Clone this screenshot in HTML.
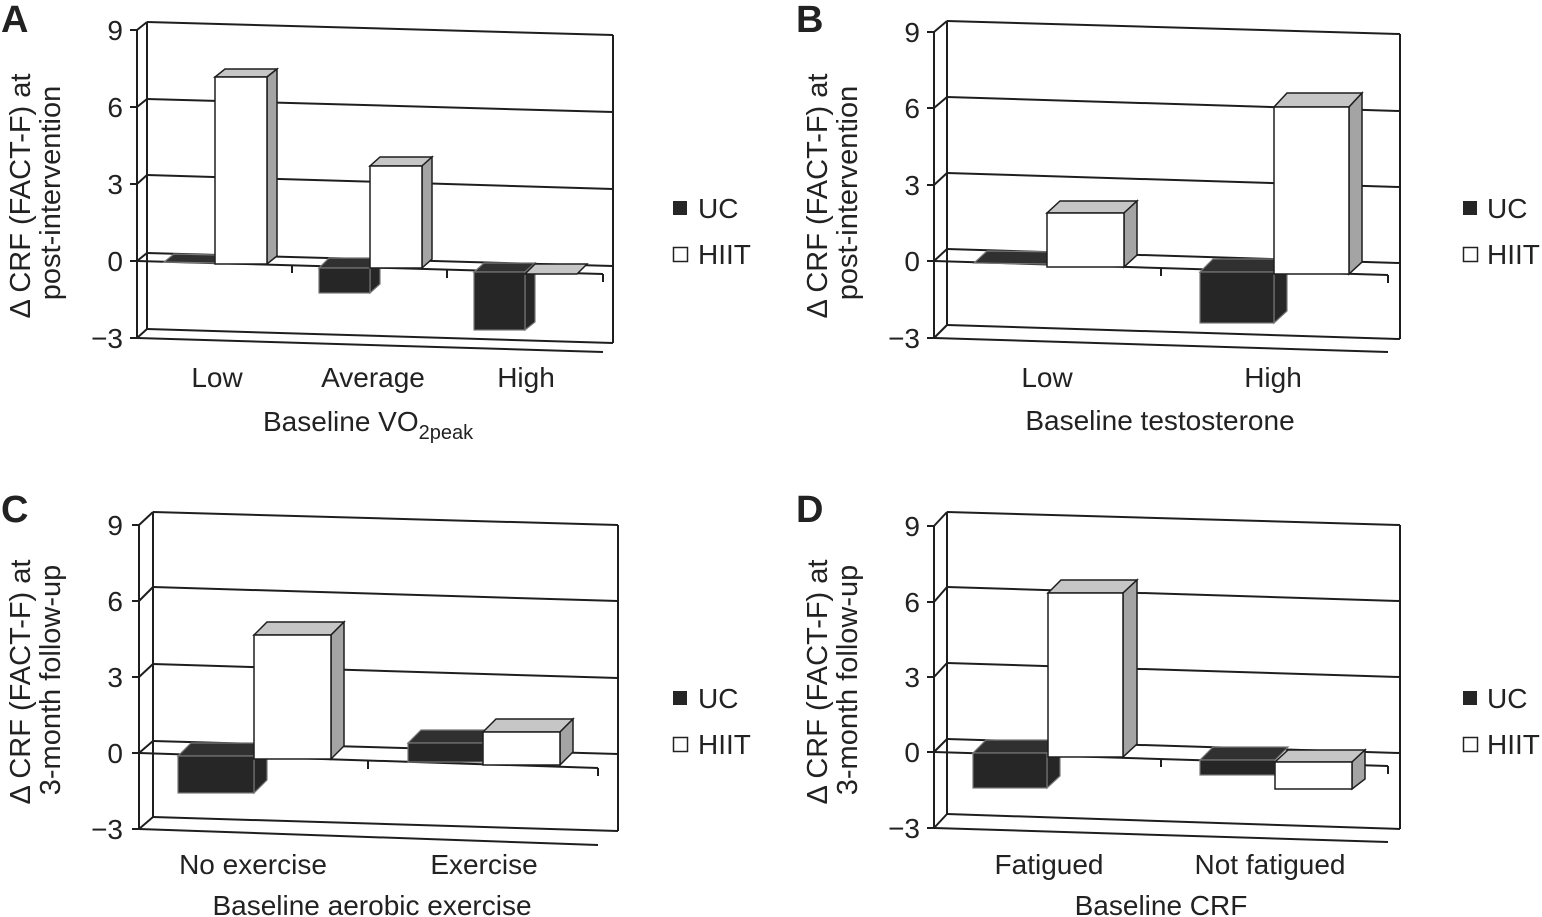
<!DOCTYPE html>
<html><head><meta charset="utf-8"><style>
html,body{margin:0;padding:0;background:#fff;}
svg{display:block;}
text{font-family:"Liberation Sans",Arial,sans-serif;fill:#222;}
.t{font-size:28px;text-anchor:end;}
.ax{font-size:28px;}
.c{font-size:28px;text-anchor:middle;}
.yt{font-size:29px;text-anchor:middle;}
.L{font-size:38px;font-weight:bold;}
.g{stroke:#1e1e1e;stroke-width:2;fill:none;}
.k{fill:#262626;stroke:#777;stroke-width:1.2;}
.kt{fill:#303030;stroke:#777;stroke-width:1.2;}
.w{fill:#fff;stroke:#1e1e1e;stroke-width:1.5;}
.gt{fill:#c6c6c6;stroke:#1e1e1e;stroke-width:1.5;}
.gs{fill:#a4a4a4;stroke:#1e1e1e;stroke-width:1.5;}
</style></head><body>
<svg width="1542" height="917" viewBox="0 0 1542 917" xmlns="http://www.w3.org/2000/svg">
<rect width="1542" height="917" fill="#fff"/>

<!-- ================= PANEL A ================= -->
<text class="L" x="1" y="32">A</text>
<g class="g">
<line x1="147" y1="22" x2="613" y2="35"/>
<line x1="147" y1="99" x2="613" y2="112"/>
<line x1="147" y1="175" x2="613" y2="189"/>
<line x1="147" y1="253" x2="613" y2="266"/>
<line x1="147" y1="329" x2="613" y2="343"/>
<line x1="147" y1="22" x2="147" y2="329"/>
<line x1="613" y1="35" x2="613" y2="343"/>
<line x1="137" y1="30" x2="137" y2="338"/>
<line x1="130" y1="30" x2="137" y2="30"/><line x1="137" y1="30" x2="147" y2="22"/>
<line x1="130" y1="107" x2="137" y2="107"/><line x1="137" y1="107" x2="147" y2="99"/>
<line x1="130" y1="184" x2="137" y2="184"/><line x1="137" y1="184" x2="147" y2="175"/>
<line x1="130" y1="261" x2="137" y2="261"/><line x1="137" y1="261" x2="147" y2="253"/>
<line x1="130" y1="338" x2="137" y2="338"/><line x1="137" y1="338" x2="147" y2="329"/>
<line x1="137" y1="261" x2="603" y2="274"/>
<line x1="292" y1="265" x2="292" y2="273"/>
<line x1="447" y1="270" x2="447" y2="278"/>
<line x1="603" y1="274" x2="603" y2="282"/>
<line x1="137" y1="338" x2="603" y2="352"/>
</g>
<text class="t" x="123" y="40">9</text>
<text class="t" x="123" y="117">6</text>
<text class="t" x="123" y="194">3</text>
<text class="t" x="123" y="271">0</text>
<text class="t" x="123" y="348">−3</text>
<text class="yt" transform="translate(30,196) rotate(-90)">Δ CRF (FACT-F) at</text>
<text class="yt" transform="translate(60,193) rotate(-90)">post-intervention</text>
<!-- bars A -->
<polygon class="kt" points="164,262 215,263 215,255 174,254"/>
<polygon class="gt" points="215,77 267,77 277,69 225,69"/>
<polygon class="gs" points="267,77 277,69 277,256 267,264"/>
<rect class="w" x="215" y="77" width="52" height="187"/>
<polygon class="kt" points="319,268 370,268 380,258 329,258"/>
<polygon class="k" points="370,268 380,258 380,284 370,293"/>
<rect class="k" x="319" y="268" width="51" height="25"/>
<polygon class="gt" points="370,166 422,166 432,157 380,157"/>
<polygon class="gs" points="422,166 432,157 432,259 422,268"/>
<rect class="w" x="370" y="166" width="52" height="102"/>
<polygon class="kt" points="474,272 525,272 535,263 484,263"/>
<polygon class="k" points="525,272 535,263 535,322 525,330"/>
<rect class="k" x="474" y="272" width="51" height="58"/>
<polygon class="gt" points="525,274 577,274 587,264 535,264"/>
<!-- legend A -->
<rect x="673" y="201" width="14" height="14" fill="#262626"/>
<text class="ax" x="698" y="218">UC</text>
<rect x="673.5" y="247.5" width="14" height="14" fill="#fff" stroke="#222" stroke-width="1.5"/>
<text class="ax" x="698" y="264">HIIT</text>
<text class="c" x="217" y="387">Low</text>
<text class="c" x="373" y="387">Average</text>
<text class="c" x="526" y="387">High</text>
<text class="ax" x="263" y="431">Baseline VO<tspan font-size="20" dy="8">2peak</tspan></text>

<!-- ================= PANEL B ================= -->
<text class="L" x="796" y="32">B</text>
<g class="g">
<line x1="947" y1="21" x2="1400" y2="34"/>
<line x1="947" y1="97" x2="1400" y2="111"/>
<line x1="947" y1="173" x2="1400" y2="187"/>
<line x1="947" y1="249" x2="1400" y2="263"/>
<line x1="947" y1="325" x2="1400" y2="339"/>
<line x1="947" y1="21" x2="947" y2="325"/>
<line x1="1400" y1="34" x2="1400" y2="339"/>
<line x1="934" y1="32" x2="934" y2="338"/>
<line x1="927" y1="32" x2="934" y2="32"/><line x1="934" y1="32" x2="947" y2="21"/>
<line x1="927" y1="108" x2="934" y2="108"/><line x1="934" y1="108" x2="947" y2="97"/>
<line x1="927" y1="185" x2="934" y2="185"/><line x1="934" y1="185" x2="947" y2="173"/>
<line x1="927" y1="261" x2="934" y2="261"/><line x1="934" y1="261" x2="947" y2="249"/>
<line x1="927" y1="338" x2="934" y2="338"/><line x1="934" y1="338" x2="947" y2="325"/>
<line x1="934" y1="261" x2="1388" y2="275"/>
<line x1="1161" y1="268" x2="1161" y2="276"/>
<line x1="1388" y1="275" x2="1388" y2="283"/>
<line x1="934" y1="338" x2="1388" y2="352"/>
</g>
<text class="t" x="920" y="42">9</text>
<text class="t" x="920" y="118">6</text>
<text class="t" x="920" y="195">3</text>
<text class="t" x="920" y="271">0</text>
<text class="t" x="920" y="348">−3</text>
<text class="yt" transform="translate(827,196) rotate(-90)">Δ CRF (FACT-F) at</text>
<text class="yt" transform="translate(857,193) rotate(-90)">post-intervention</text>
<!-- bars B -->
<polygon class="kt" points="974,263 1047,264 1060,252 987,251"/>
<polygon class="gt" points="1047,213 1124,213 1137,201 1060,201"/>
<polygon class="gs" points="1124,213 1137,201 1137,255 1124,267"/>
<rect class="w" x="1047" y="213" width="77" height="54"/>
<polygon class="kt" points="1200,272 1274,272 1287,259 1213,259"/>
<polygon class="k" points="1274,272 1287,259 1287,311 1274,323"/>
<rect class="k" x="1200" y="272" width="74" height="51"/>
<polygon class="gt" points="1274,107 1349,107 1362,93 1287,93"/>
<polygon class="gs" points="1349,107 1362,93 1362,262 1349,274"/>
<rect class="w" x="1274" y="107" width="75" height="167"/>
<!-- legend B -->
<rect x="1463" y="201" width="14" height="14" fill="#262626"/>
<text class="ax" x="1487" y="218">UC</text>
<rect x="1463.5" y="247.5" width="14" height="14" fill="#fff" stroke="#222" stroke-width="1.5"/>
<text class="ax" x="1487" y="264">HIIT</text>
<text class="c" x="1047" y="387">Low</text>
<text class="c" x="1273" y="387">High</text>
<text class="c" x="1160" y="430">Baseline testosterone</text>

<!-- ================= PANEL C ================= -->
<text class="L" x="1" y="522">C</text>
<g class="g">
<line x1="153" y1="512" x2="618" y2="525"/>
<line x1="153" y1="587" x2="618" y2="601"/>
<line x1="153" y1="664" x2="618" y2="678"/>
<line x1="153" y1="741" x2="618" y2="754"/>
<line x1="153" y1="817" x2="618" y2="831"/>
<line x1="153" y1="512" x2="153" y2="817"/>
<line x1="618" y1="525" x2="618" y2="831"/>
<line x1="139" y1="525" x2="139" y2="829"/>
<line x1="132" y1="525" x2="139" y2="525"/><line x1="139" y1="525" x2="153" y2="512"/>
<line x1="132" y1="601" x2="139" y2="601"/><line x1="139" y1="601" x2="153" y2="587"/>
<line x1="132" y1="677" x2="139" y2="677"/><line x1="139" y1="677" x2="153" y2="664"/>
<line x1="132" y1="753" x2="139" y2="753"/><line x1="139" y1="753" x2="153" y2="741"/>
<line x1="132" y1="829" x2="139" y2="829"/><line x1="139" y1="829" x2="153" y2="817"/>
<line x1="139" y1="753" x2="598" y2="768"/>
<line x1="368" y1="761" x2="368" y2="769"/>
<line x1="598" y1="768" x2="598" y2="776"/>
<line x1="139" y1="829" x2="598" y2="845"/>
</g>
<text class="t" x="123" y="535">9</text>
<text class="t" x="123" y="611">6</text>
<text class="t" x="123" y="687">3</text>
<text class="t" x="123" y="763">0</text>
<text class="t" x="123" y="839">−3</text>
<text class="yt" transform="translate(30,682) rotate(-90)">Δ CRF (FACT-F) at</text>
<text class="yt" transform="translate(60,680) rotate(-90)">3-month follow-up</text>
<!-- bars C -->
<polygon class="kt" points="178,756 254,756 267,743 191,743"/>
<polygon class="k" points="254,756 267,743 267,780 254,793"/>
<rect class="k" x="178" y="756" width="76" height="37"/>
<polygon class="gt" points="254,635 331,635 344,622 267,622"/>
<polygon class="gs" points="331,635 344,622 344,746 331,759"/>
<rect class="w" x="254" y="635" width="77" height="124"/>
<polygon class="kt" points="408,743 483,743 496,730 421,730"/>
<rect class="k" x="408" y="743" width="75" height="19"/>
<polygon class="gt" points="483,732 560,732 573,719 496,719"/>
<polygon class="gs" points="560,732 573,719 573,752 560,765"/>
<rect class="w" x="483" y="732" width="77" height="33"/>
<!-- legend C -->
<rect x="673" y="691" width="14" height="14" fill="#262626"/>
<text class="ax" x="698" y="708">UC</text>
<rect x="673.5" y="737.5" width="14" height="14" fill="#fff" stroke="#222" stroke-width="1.5"/>
<text class="ax" x="698" y="754">HIIT</text>
<text class="c" x="253" y="874">No exercise</text>
<text class="c" x="484" y="874">Exercise</text>
<text class="c" x="372" y="915">Baseline aerobic exercise</text>

<!-- ================= PANEL D ================= -->
<text class="L" x="796" y="522">D</text>
<g class="g">
<line x1="947" y1="512" x2="1400" y2="525"/>
<line x1="947" y1="587" x2="1400" y2="601"/>
<line x1="947" y1="663" x2="1400" y2="677"/>
<line x1="947" y1="739" x2="1400" y2="753"/>
<line x1="947" y1="814" x2="1400" y2="829"/>
<line x1="947" y1="512" x2="947" y2="814"/>
<line x1="1400" y1="525" x2="1400" y2="829"/>
<line x1="934" y1="526" x2="934" y2="828"/>
<line x1="927" y1="526" x2="934" y2="526"/><line x1="934" y1="526" x2="947" y2="512"/>
<line x1="927" y1="602" x2="934" y2="602"/><line x1="934" y1="602" x2="947" y2="587"/>
<line x1="927" y1="677" x2="934" y2="677"/><line x1="934" y1="677" x2="947" y2="663"/>
<line x1="927" y1="752" x2="934" y2="752"/><line x1="934" y1="752" x2="947" y2="739"/>
<line x1="927" y1="828" x2="934" y2="828"/><line x1="934" y1="828" x2="947" y2="814"/>
<line x1="934" y1="752" x2="1388" y2="766"/>
<line x1="1161" y1="759" x2="1161" y2="767"/>
<line x1="1388" y1="766" x2="1388" y2="774"/>
<line x1="934" y1="828" x2="1388" y2="842"/>
</g>
<text class="t" x="920" y="536">9</text>
<text class="t" x="920" y="612">6</text>
<text class="t" x="920" y="687">3</text>
<text class="t" x="920" y="762">0</text>
<text class="t" x="920" y="838">−3</text>
<text class="yt" transform="translate(827,682) rotate(-90)">Δ CRF (FACT-F) at</text>
<text class="yt" transform="translate(857,680) rotate(-90)">3-month follow-up</text>
<!-- bars D -->
<polygon class="kt" points="973,753 1047,753 1060,740 986,740"/>
<polygon class="k" points="1047,753 1060,740 1060,776 1047,788"/>
<rect class="k" x="973" y="753" width="74" height="35"/>
<polygon class="gt" points="1048,593 1123,593 1137,580 1061,580"/>
<polygon class="gs" points="1123,593 1137,580 1137,744 1123,757"/>
<rect class="w" x="1048" y="593" width="75" height="164"/>
<polygon class="kt" points="1200,760 1275,760 1288,747 1213,747"/>
<rect class="k" x="1200" y="760" width="75" height="15"/>
<polygon class="gt" points="1275,762 1352,762 1365,750 1288,750"/>
<polygon class="gs" points="1352,762 1365,750 1365,779 1352,789"/>
<rect class="w" x="1275" y="762" width="77" height="27"/>
<!-- legend D -->
<rect x="1463" y="691" width="14" height="14" fill="#262626"/>
<text class="ax" x="1487" y="708">UC</text>
<rect x="1463.5" y="737.5" width="14" height="14" fill="#fff" stroke="#222" stroke-width="1.5"/>
<text class="ax" x="1487" y="754">HIIT</text>
<text class="c" x="1049" y="874">Fatigued</text>
<text class="c" x="1270" y="874">Not fatigued</text>
<text class="c" x="1161" y="915">Baseline CRF</text>
</svg>
</body></html>
